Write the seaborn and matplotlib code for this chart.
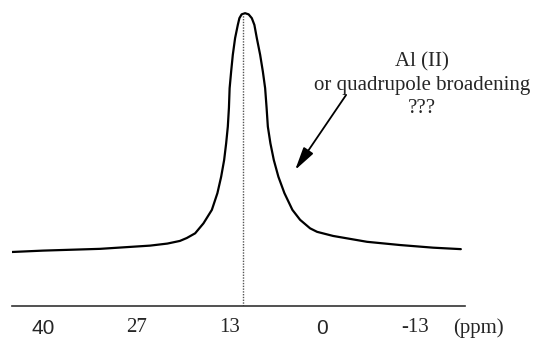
import numpy as np
import pandas as pd
import matplotlib
matplotlib.use("Agg")
import matplotlib.pyplot as plt
import seaborn as sns

# --- data (ppm, relative intensity) ---
shift_ppm = [44.96, 40.2, 32.0, 24.8, 22.3, 20.5, 19.50, 18.30, 17.10, 15.89,
             15.09, 14.55, 14.12, 13.83, 13.59, 13.43, 13.33, 13.11, 12.87,
             12.54, 12.15, 11.92, 11.60, 11.10, 10.59, 10.13, 9.76, 9.41, 8.93,
             8.54, 8.21, 8.00, 7.82, 7.45, 6.96, 6.30, 5.43, 4.28, 3.17, 1.73,
             0.72, -1.59, -6.48, -11.24, -16.0, -20.0]
intensity = [18.4, 18.9, 19.5, 20.6, 21.3, 22.2, 23.2, 24.8, 28.2, 32.8,
             38.5, 44.1, 49.8, 55.5, 61.2, 67.6, 74.3, 80.0, 85.7,
             91.4, 95.9, 98.2, 99.5, 99.9, 99.5, 98.2, 95.9, 91.4, 85.7,
             80.0, 74.3, 67.6, 61.2, 55.5, 49.8, 44.1, 38.5, 32.8, 29.4, 26.5,
             25.3, 23.9, 21.9, 20.8, 19.9, 19.4]
peak_marker_ppm = 11.35
peak_marker_top = 99.7
tick_positions = [40.2, 26.8, 13.4, 0.0, -13.4]
tick_labels = ["40", "27", "13", "0", "-13"]
sans_labels = {"40", "0"}
annotation_text = "Al (II)\nor quadrupole broadening\n???"

df = pd.DataFrame({"ppm": shift_ppm, "I": intensity})

sns.set_style("white")
plt.rcParams["font.family"] = ["Liberation Serif", "DejaVu Serif"]

fig = plt.figure(figsize=(5.35, 3.47), dpi=100)
ax = fig.add_axes([12 / 535, 1 - 306 / 347, (465 - 12) / 535, 306 / 347])

sns.lineplot(data=df, x="ppm", y="I", ax=ax, color="black", linewidth=1.6,
             sort=False, estimator=None)
ax.vlines(peak_marker_ppm, 0, peak_marker_top, colors="#555555",
          linestyles=(0, (1, 1)), linewidth=1.0)

ax.set_xlim(44.7, -20.6)
ax.set_ylim(0, 104.4)
for s in ["top", "left", "right"]:
    ax.spines[s].set_visible(False)
ax.spines["bottom"].set_color("#333333")
ax.spines["bottom"].set_linewidth(1.2)
ax.set_yticks([])
ax.set_xticks(tick_positions)
ax.set_xticklabels(tick_labels)
ax.tick_params(axis="x", direction="out", length=4, width=1.2, color="#333333",
               pad=5, labelsize=15)
for lab in ax.get_xticklabels():
    if lab.get_text() in sans_labels:
        lab.set_family(["Liberation Sans", "DejaVu Sans"])
ax.set_xlabel("")
ax.set_ylabel("")

ax.annotate("", xy=(3.89, 46.4), xytext=(-3.46, 72.0),
            arrowprops=dict(arrowstyle="-|>,head_length=1.0,head_width=0.25",
                            color="black", lw=1.3, mutation_scale=14,
                            shrinkA=0, shrinkB=0))
ax.text(-14.4, 75.4, annotation_text, ha="center", va="center",
        fontsize=15, linespacing=1.3, clip_on=False)

fig.text(478 / 535, 1 - 328 / 347, "(ppm)", ha="center", va="center",
         fontsize=15)

fig.savefig("out.png", dpi=100)
